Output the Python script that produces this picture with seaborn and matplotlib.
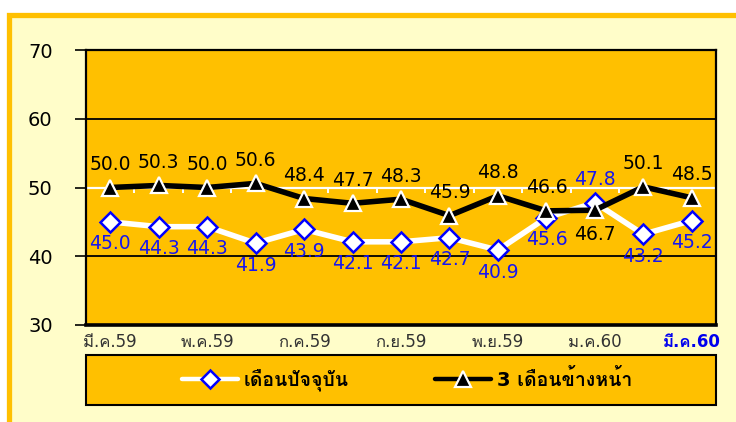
import numpy as np
import pandas as pd
import seaborn as sns
import matplotlib
matplotlib.use("Agg")
import matplotlib.pyplot as plt
from matplotlib.patches import Rectangle
from matplotlib.lines import Line2D
from matplotlib import font_manager
from matplotlib.ft2font import FT2Font

# ---------------- data ----------------
months = ["มี.ค.59", "เม.ย.59", "พ.ค.59", "มิ.ย.59", "ก.ค.59", "ส.ค.59", "ก.ย.59",
          "ต.ค.59", "พ.ย.59", "ธ.ค.59", "ม.ค.60", "ก.พ.60", "มี.ค.60"]
current = [45.0, 44.3, 44.3, 41.9, 43.9, 42.1, 42.1, 42.7, 40.9, 45.6, 47.8, 43.2, 45.2]
ahead = [50.0, 50.3, 50.0, 50.6, 48.4, 47.7, 48.3, 45.9, 48.8, 46.6, 46.7, 50.1, 48.5]
series_names = ["เดือนปัจจุบัน", "3 เดือนข้างหน้า"]
y_ticks = [30, 40, 50, 60, 70]

# ---------------- fonts ----------------
sns.set_theme(style="white")
thai_font = None
for f in font_manager.fontManager.ttflist:
    try:
        ft = FT2Font(f.fname)
        if ft.get_char_index(0x0E14) and ft.get_char_index(0x0E35):
            thai_font = f.name
            break
    except Exception:
        pass
families = ["DejaVu Sans"] + ([thai_font] if thai_font else [])
plt.rcParams["font.family"] = families

ORANGE = "#FFC000"
PALE = "#FFFDC9"
BLUE = "#1616F0"

df = pd.DataFrame({"idx": np.arange(len(months)), "month": months,
                   "current": current, "ahead": ahead})

fig = plt.figure(figsize=(7.36, 4.22), dpi=100)
fig.patch.set_facecolor("white")
W, H = 736.0, 422.0

# outer pale panel with gold border
bg = Rectangle((8.5 / W, -0.2), 1.2, 1 - 14.5 / H + 0.2,
               transform=fig.transFigure, facecolor=PALE,
               edgecolor=ORANGE, linewidth=3.8, zorder=-10)
fig.patches.append(bg)

ax = fig.add_axes([86 / W, 1 - 325 / H, 630 / W, 275 / H])
ax.set_zorder(1)
ax.set_facecolor(ORANGE)

# gridlines
for g in (40, 60):
    ax.axhline(g, color="black", lw=1.3, zorder=1)
ax.axhline(50, color="white", lw=1.6, zorder=1)
ax.vlines(np.arange(len(months) + 1) - 0.5, 50 - 0.75, 50, color="white", lw=1.4, zorder=1)

sns.lineplot(data=df, x="idx", y="current", ax=ax, color="white", lw=4.0,
             marker="D", markersize=10, markerfacecolor="white",
             markeredgecolor="#0000FF", markeredgewidth=1.8, zorder=3)
sns.lineplot(data=df, x="idx", y="ahead", ax=ax, color="black", lw=4.0,
             marker="^", markersize=11.5, markerfacecolor="black",
             markeredgecolor="white", markeredgewidth=1.6, zorder=4)

# data labels
for i, (c, a) in enumerate(zip(current, ahead)):
    c_up = (i == 10)
    a_up = (i != 10)
    ax.annotate(f"{c:.1f}", (i, c), xytext=(0, 23 if c_up else -22),
                textcoords="offset pixels", ha="center", va="center",
                color=BLUE, fontsize=13.5, zorder=6)
    ax.annotate(f"{a:.1f}", (i, a), xytext=(0, 23 if a_up else -24),
                textcoords="offset pixels", ha="center", va="center",
                color="black", fontsize=13.5, zorder=6)

ax.set_xlim(-0.5, len(months) - 0.5)
ax.set_ylim(30, 70)
ax.set_yticks(y_ticks)
ax.set_yticklabels([str(v) for v in y_ticks], fontsize=14, color="black")
ax.tick_params(axis="y", direction="out", length=8, width=1.2, color="black",
               pad=16, left=True)
xt = list(range(0, len(months), 2))
ax.set_xticks(xt)
ax.set_xticklabels([months[i] for i in xt], fontsize=12, color="#333333")
ax.tick_params(axis="x", length=0, pad=6)
lbls = ax.get_xticklabels()
lbls[-1].set_color("#0000EE")
lbls[-1].set_fontweight("bold")
ax.set_xlabel("")
ax.set_ylabel("")

for s in ("left", "top", "right"):
    ax.spines[s].set_visible(True)
    ax.spines[s].set_color("black")
    ax.spines[s].set_linewidth(1.6)
ax.spines["bottom"].set_color("black")
ax.spines["bottom"].set_linewidth(2.6)

# legend box
fig.patches.append(Rectangle((86 / W, 1 - 405 / H), 630 / W, 50 / H,
                             transform=fig.transFigure, facecolor=ORANGE,
                             edgecolor="black", linewidth=1.5, zorder=1))
handles = [
    Line2D([], [], color="white", lw=3.2, marker="D", markersize=9.5,
           markerfacecolor="white", markeredgecolor="#0000FF", markeredgewidth=1.8),
    Line2D([], [], color="black", lw=3.2, marker="^", markersize=11,
           markerfacecolor="black", markeredgecolor="white", markeredgewidth=1.6),
]
leg = fig.legend(handles, series_names, loc="center", ncol=2,
                 bbox_to_anchor=(407 / W, 1 - 380 / H), frameon=False,
                 prop={"size": 14, "weight": "bold"},
                 handlelength=2.9, handletextpad=0.3, columnspacing=4.4)
leg.set_zorder(2)
for t in leg.get_texts():
    t.set_color("black")

fig.savefig("out.png", dpi=100)
